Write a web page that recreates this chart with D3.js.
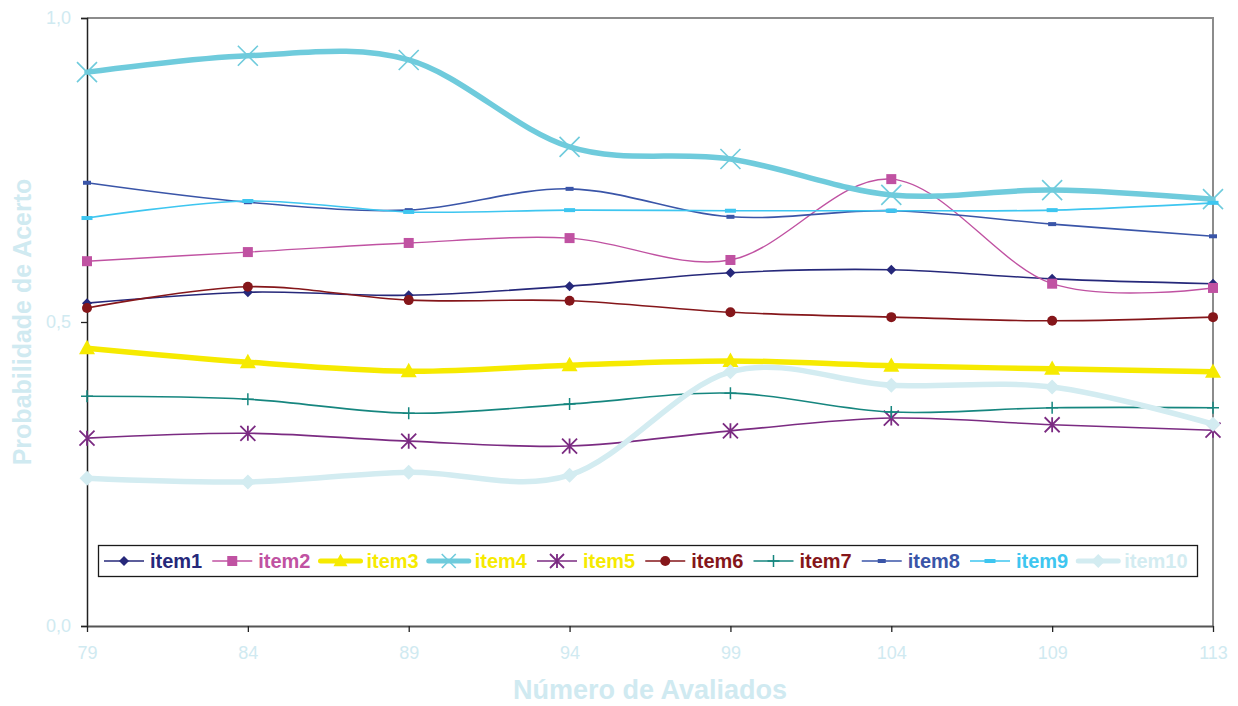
<!DOCTYPE html>
<html>
<head>
<meta charset="utf-8">
<script src="https://cdn.jsdelivr.net/npm/d3@7"></script>
<style>
  html, body { margin: 0; padding: 0; background: #fff; }
  svg { display: block; font-family: "Liberation Sans", Arial, sans-serif; }
</style>
</head>
<body>
<svg id="chart" width="1238" height="706"></svg>
<script>
// Sample sizes (x categories)
const categories = ["79", "84", "89", "94", "99", "104", "109", "113"];

// Probability of a correct answer per item
const item1  = [0.531, 0.549, 0.544, 0.559, 0.581, 0.586, 0.571, 0.563];
const item2  = [0.600, 0.615, 0.630, 0.638, 0.602, 0.735, 0.563, 0.556];
const item3  = [0.457, 0.434, 0.419, 0.429, 0.436, 0.428, 0.423, 0.418];
const item4  = [0.911, 0.938, 0.931, 0.788, 0.768, 0.709, 0.717, 0.702];
const item5  = [0.309, 0.317, 0.304, 0.296, 0.321, 0.342, 0.331, 0.322];
const item6  = [0.523, 0.558, 0.536, 0.535, 0.516, 0.508, 0.502, 0.508];
const item7  = [0.378, 0.373, 0.350, 0.365, 0.383, 0.352, 0.359, 0.359];
const item8  = [0.729, 0.697, 0.684, 0.719, 0.673, 0.683, 0.661, 0.641];
const item9  = [0.671, 0.699, 0.681, 0.684, 0.683, 0.683, 0.684, 0.696];
const item10 = [0.243, 0.237, 0.253, 0.248, 0.418, 0.396, 0.393, 0.332];

const yTicks = [0, 0.5, 1];

const seriesNames = ["item1", "item2", "item3", "item4", "item5", "item6", "item7", "item8", "item9", "item10"];
const seriesValues = [item1, item2, item3, item4, item5, item6, item7, item8, item9, item10];

// Styling per series: line colour, legend text colour, stroke width, marker type
const styles = [
  { color: "#26287a", text: "#26287a", width: 1.6, marker: "diamond", size: 10 },
  { color: "#c052a2", text: "#c052a2", width: 1.4, marker: "square", size: 10 },
  { color: "#f6ea00", text: "#f6ea00", width: 5.5, marker: "triangle", size: 16 },
  { color: "#6fcbdc", text: "#f6ea00", width: 5.5, marker: "cross", size: 20 },
  { color: "#7b2b82", text: "#f6ea00", width: 1.6, marker: "asterisk", size: 15 },
  { color: "#85161a", text: "#85161a", width: 1.6, marker: "circle", size: 10 },
  { color: "#16867f", text: "#85161a", width: 1.6, marker: "plus", size: 12 },
  { color: "#3a55a8", text: "#3a55a8", width: 1.6, marker: "dash", size: 8 },
  { color: "#3ec6f0", text: "#3ec6f0", width: 1.6, marker: "dash", size: 11 },
  { color: "#d3ecf1", text: "#d3ecf1", width: 5.5, marker: "diamond", size: 15 }
];

const paleText = "#d0eaf1";

const svg = d3.select("#chart");
const margin = { left: 87, right: 25, top: 18, bottom: 80 };
const W = 1238, H = 706;

const x = d3.scalePoint().domain(categories).range([margin.left, W - margin.right]);
const y = d3.scaleLinear().domain([0, 1]).range([H - margin.bottom, margin.top]);

const locale = d3.formatLocale({ decimal: ",", thousands: ".", grouping: [3], currency: ["", ""] });
const fmt = locale.format(".1f");

// Plot frame: grey top and right edges
svg.append("path")
  .attr("d", `M${x.range()[0]},${y(1)}H${x.range()[1]}V${y(0)}`)
  .attr("fill", "none").attr("stroke", "#8c8c8c").attr("stroke-width", 2);

// Y axis
const yAxis = svg.append("g")
  .attr("transform", `translate(${margin.left},0)`)
  .call(d3.axisLeft(y).tickValues(yTicks).tickFormat(fmt).tickSize(6).tickPadding(10));
yAxis.select(".domain").attr("stroke", "#222").attr("stroke-width", 1.5);
yAxis.selectAll(".tick line").attr("stroke", "#222").attr("stroke-width", 1.3);
yAxis.selectAll(".tick text").attr("fill", paleText).attr("font-size", 18)
  .attr("font-family", "Liberation Sans, Arial, sans-serif");

// X axis
const xAxis = svg.append("g")
  .attr("transform", `translate(0,${y(0)})`)
  .call(d3.axisBottom(x).tickSize(6).tickPadding(14).tickSizeOuter(0));
xAxis.select(".domain").attr("stroke", "#555").attr("stroke-width", 2.2);
xAxis.selectAll(".tick line").attr("stroke", "#222").attr("stroke-width", 1.3);
xAxis.selectAll(".tick text").attr("fill", paleText).attr("font-size", 18)
  .attr("font-family", "Liberation Sans, Arial, sans-serif");

// Axis titles
svg.append("text")
  .attr("x", (x.range()[0] + x.range()[1]) / 2)
  .attr("y", 699)
  .attr("text-anchor", "middle")
  .attr("font-size", 27).attr("font-weight", "bold")
  .attr("fill", paleText)
  .text("Número de Avaliados");

svg.append("text")
  .attr("transform", `translate(31,${y(0.5)}) rotate(-90)`)
  .attr("text-anchor", "middle")
  .attr("font-size", 25).attr("font-weight", "bold")
  .attr("fill", paleText)
  .text("Probabilidade de Acerto");

// Marker drawing
function drawMarker(g, type, size, color) {
  const s = size / 2;
  switch (type) {
    case "diamond":
      g.append("path").attr("d", `M0,${-s}L${s},0L0,${s}L${-s},0Z`).attr("fill", color);
      break;
    case "square":
      g.append("rect").attr("x", -s).attr("y", -s).attr("width", size).attr("height", size).attr("fill", color);
      break;
    case "triangle":
      g.append("path").attr("d", `M0,${-s * 1.05}L${s},${s * 0.75}L${-s},${s * 0.75}Z`).attr("fill", color);
      break;
    case "circle":
      g.append("circle").attr("r", s).attr("fill", color);
      break;
    case "cross":
      g.append("path").attr("d", `M${-s},${-s}L${s},${s}M${-s},${s}L${s},${-s}`)
        .attr("stroke", color).attr("stroke-width", 1.6).attr("fill", "none");
      break;
    case "asterisk":
      g.append("path").attr("d", `M${-s},${-s}L${s},${s}M${-s},${s}L${s},${-s}M0,${-s}L0,${s}`)
        .attr("stroke", color).attr("stroke-width", 1.8).attr("fill", "none");
      break;
    case "plus":
      g.append("path").attr("d", `M${-s},0L${s},0M0,${-s}L0,${s}`)
        .attr("stroke", color).attr("stroke-width", 1.5).attr("fill", "none");
      break;
    case "dash":
      g.append("rect").attr("x", -s).attr("y", -2).attr("width", size).attr("height", 4).attr("fill", color);
      break;
  }
}

// Smoothed series lines
const line = d3.line()
  .x((d, i) => x(categories[i]))
  .y(d => y(d))
  .curve(d3.curveCardinal.tension(0));

seriesValues.forEach((vals, k) => {
  const st = styles[k];
  const g = svg.append("g").attr("class", "series " + seriesNames[k]);
  g.append("path").datum(vals)
    .attr("d", line)
    .attr("fill", "none")
    .attr("stroke", st.color)
    .attr("stroke-width", st.width)
    .attr("stroke-linejoin", "round")
    .attr("stroke-linecap", "round");
  vals.forEach((v, i) => {
    const m = g.append("g").attr("transform", `translate(${x(categories[i])},${y(v)})`);
    drawMarker(m, st.marker, st.size, st.color);
  });
});

// Legend
const legend = svg.append("g").attr("class", "legend");
legend.append("rect")
  .attr("x", 98.5).attr("y", 545.5).attr("width", 1099).attr("height", 31)
  .attr("fill", "#fff").attr("stroke", "#1a1a1a").attr("stroke-width", 1.3);

let lx = 104;
const ly = 561;
seriesNames.forEach((name, k) => {
  const st = styles[k];
  const g = legend.append("g");
  g.append("line")
    .attr("x1", lx).attr("x2", lx + 40).attr("y1", ly).attr("y2", ly)
    .attr("stroke", st.color).attr("stroke-width", Math.min(st.width, 5))
    .attr("stroke-linecap", st.width > 3 ? "round" : "butt");
  const m = g.append("g").attr("transform", `translate(${lx + 20},${ly})`);
  drawMarker(m, st.marker, st.marker === "cross" ? 14 : Math.min(st.size, 14), st.color);
  const t = g.append("text")
    .attr("x", lx + 46).attr("y", ly + 7)
    .attr("font-size", 20).attr("font-weight", "bold")
    .attr("fill", st.text)
    .text(name);
  const w = t.node().getComputedTextLength();
  lx = lx + 46 + w + 10;
});
</script>
</body>
</html>
